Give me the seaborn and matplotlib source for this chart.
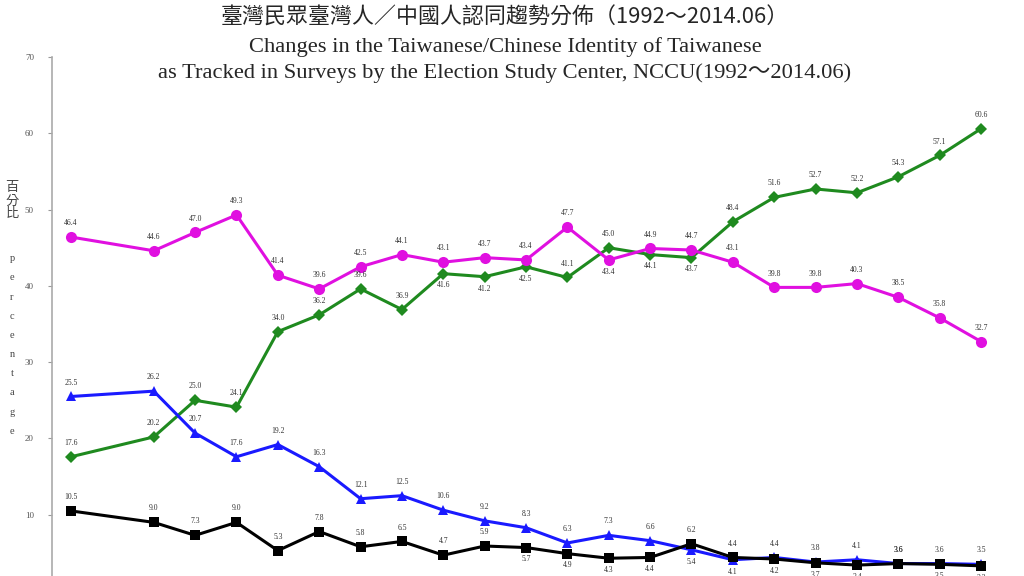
import pandas as pd
import matplotlib.pyplot as plt
import seaborn as sns

# survey years (2014 = 2014.06)
years = [1992, 1994, 1995, 1996, 1997, 1998, 1999, 2000, 2001, 2002, 2003,
         2004, 2005, 2006, 2007, 2008, 2009, 2010, 2011, 2012, 2013, 2014]

taiwanese = [17.6, 20.2, 25.0, 24.1, 34.0, 36.2, 39.6, 36.9, 41.6, 41.2, 42.5,
             41.1, 45.0, 44.1, 43.7, 48.4, 51.6, 52.7, 52.2, 54.3, 57.1, 60.6]
both = [46.4, 44.6, 47.0, 49.3, 41.4, 39.6, 42.5, 44.1, 43.1, 43.7, 43.4,
        47.7, 43.4, 44.9, 44.7, 43.1, 39.8, 39.8, 40.3, 38.5, 35.8, 32.7]
chinese = [25.5, 26.2, 20.7, 17.6, 19.2, 16.3, 12.1, 12.5, 10.6, 9.2, 8.3,
           6.3, 7.3, 6.6, 5.4, 4.1, 4.4, 3.8, 4.1, 3.6, 3.6, 3.5]
no_response = [10.5, 9.0, 7.3, 9.0, 5.3, 7.8, 5.8, 6.5, 4.7, 5.9, 5.7,
               4.9, 4.3, 4.4, 6.2, 4.4, 4.2, 3.7, 3.4, 3.6, 3.5, 3.3]

series = {
    'Taiwanese': taiwanese,
    'Both': both,
    'Chinese': chinese,
    'Non-response': no_response,
}
styles = {
    'Taiwanese': ('#1f8a1f', 'D', 6),
    'Both': ('#e010e0', 'o', 8),
    'Chinese': ('#1a1aff', '^', 7.5),
    'Non-response': ('#000000', 's', 7.5),
}

df = pd.DataFrame([
    {'year': y, 'series': name, 'value': v}
    for name, vals in series.items() for y, v in zip(years, vals)
])

sns.set_style('white')
plt.rcParams['font.family'] = ['Liberation Serif', 'Noto Sans CJK TC', 'DejaVu Sans']

fig = plt.figure(figsize=(10.24, 5.76), dpi=100)
ax = fig.add_axes([52 / 1024, 0, (1010 - 52) / 1024, 519 / 576])

for name in series:
    color, marker, size = styles[name]
    sns.lineplot(data=df[df['series'] == name], x='year', y='value',
                 color=color, marker=marker, markersize=size,
                 markeredgewidth=0, linewidth=2.2, ax=ax, legend=False)

# value labels: lower point of a close pair gets its label underneath
for name, vals in series.items():
    others = [v for n, v in series.items() if n != name]
    for j, (y, v) in enumerate(zip(years, vals)):
        limit = 2.7 if v > 15 else 3.1
        below = any(0 < o[j] - v < limit for o in others)
        ax.annotate(f'{v:.1f}', (y, v), xytext=(0, -8.5 if below else 10),
                    textcoords='offset points', ha='center', va='center',
                    fontsize=5.5, color='#333333')

ax.set_xlim(1991.54, 2014.70)
ax.set_ylim(1.97, 70)
ax.set_yticks([10, 20, 30, 40, 50, 60, 70])
ax.set_xticks([])
ax.set_xlabel('')
ax.set_ylabel('')
ax.tick_params(axis='y', left=True, length=3, width=0.8, color='#999999',
               labelsize=6.5, labelcolor='#555555', pad=10)
for side in ['top', 'right', 'bottom']:
    ax.spines[side].set_visible(False)
ax.spines['left'].set_color('#aaaaaa')
ax.spines['left'].set_linewidth(1.2)

# stacked vertical axis label
fig.text(12 / 1024, 1 - 201 / 576, '\n'.join('百分比'), ha='center', va='center',
         fontsize=9.5, color='#444444', family=['Noto Sans CJK TC'], linespacing=1.0)
fig.text(12 / 1024, 1 - 345 / 576, '\n'.join('percentage'), ha='center', va='center',
         fontsize=7.5, color='#444444', linespacing=2.45)

fig.text(505 / 1024, 1 - 18 / 576, '臺灣民眾臺灣人／中國人認同趨勢分佈（1992～2014.06）',
         ha='center', va='center', fontsize=15.8, family=['Noto Sans CJK TC'])
fig.text(505 / 1024, 1 - 47 / 576, 'Changes in the Taiwanese/Chinese Identity of Taiwanese',
         ha='center', va='center', fontsize=16.2)
fig.text(505 / 1024, 1 - 73 / 576,
         'as Tracked in Surveys by the Election Study Center, NCCU(1992～2014.06)',
         ha='center', va='center', fontsize=16.2, family=['Liberation Serif', 'Noto Sans CJK TC'])

fig.savefig('out.png', dpi=100)
